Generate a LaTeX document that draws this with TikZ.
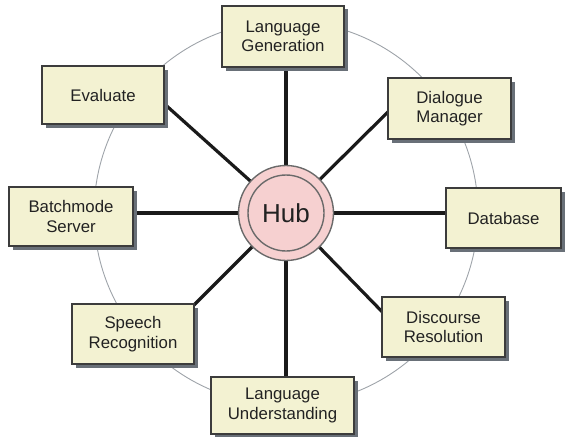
\documentclass[tikz,border=0pt]{standalone}
\usepackage{fontspec}
\setmainfont{Liberation Sans}
\usetikzlibrary{shadows}
\pgfdeclarelayer{background}
\pgfsetlayers{background,main}
\definecolor{boxfill}{HTML}{F3F2D2}
\definecolor{boxline}{HTML}{3C3C3C}
\definecolor{shadowc}{HTML}{697078}
\definecolor{hubfill}{HTML}{F6D0D0}
\definecolor{hubline}{HTML}{6A6A6A}
\definecolor{ringc}{HTML}{9EA3A9}
\definecolor{spokec}{HTML}{1A1A1A}
\definecolor{textc}{HTML}{222222}
\begin{document}
\begin{tikzpicture}[x=1pt,y=-1pt,
  modbox/.style={draw=boxline, line width=1.1pt, fill=boxfill, align=center,
    text=textc, font=\fontsize{16.8}{19.5}\selectfont, inner sep=0pt,
    general shadow={fill=shadowc, shadow xshift=3.5pt, shadow yshift=-3.5pt}},
  spoke/.style={draw=spokec, line width=3.2pt},
  ring/.style={draw=ringc, line width=0.9pt},
  hubring/.style={circle, draw=hubline, line width=1.4pt, inner sep=0pt}]
\useasboundingbox (0,0) rectangle (567,436);
\coordinate (hc) at (286,213);

% modules
\node[modbox, minimum width=122pt, minimum height=61pt] (lg) at (283,36.5) {Language\\Generation};
\node[modbox, minimum width=122pt, minimum height=58pt] (ev) at (103,95) {Evaluate};
\node[modbox, minimum width=123pt, minimum height=61pt] (dm) at (449.5,108.5) {Dialogue\\Manager};
\node[modbox, minimum width=124pt, minimum height=59pt] (bs) at (71,216.5) {Batchmode\\Server};
\node[modbox, minimum width=115pt, minimum height=60pt] (db) at (503.5,218) {Database};
\node[modbox, minimum width=122pt, minimum height=60pt] (sr) at (133,334) {Speech\\Recognition};
\node[modbox, minimum width=123pt, minimum height=60pt] (dr) at (443.5,327) {Discourse\\Resolution};
\node[modbox, minimum width=143pt, minimum height=57pt] (lu) at (282.5,405.5) {Language\\Understanding};

% hub
\node[hubring, fill=hubfill, minimum size=95pt] (hub) at (hc) {};
\node[hubring, minimum size=76pt, font=\fontsize{26}{30}\selectfont, text=textc] (hubin) at (hc) {Hub};

% spoke ends inside the diagonal boxes
\coordinate (evEnd) at (150,91);
\coordinate (dmEnd) at (400,100);
\coordinate (srEnd) at (180,319);
\coordinate (drEnd) at (395,325);

\begin{pgfonlayer}{background}
  \draw[ring] (hc) circle[radius=192];
  \draw[spoke] (hub.center) -- (hub.center |- lg.center);
  \draw[spoke] (hub.center) -- (hub.center |- lu.center);
  \draw[spoke] (hub.center) -- (hub.center -| bs.center);
  \draw[spoke] (hub.center) -- (hub.center -| db.center);
  \draw[spoke] (hub.center) -- (evEnd);
  \draw[spoke] (hub.center) -- (dmEnd);
  \draw[spoke] (hub.center) -- (srEnd);
  \draw[spoke] (hub.center) -- (drEnd);
\end{pgfonlayer}
\end{tikzpicture}
\end{document}
